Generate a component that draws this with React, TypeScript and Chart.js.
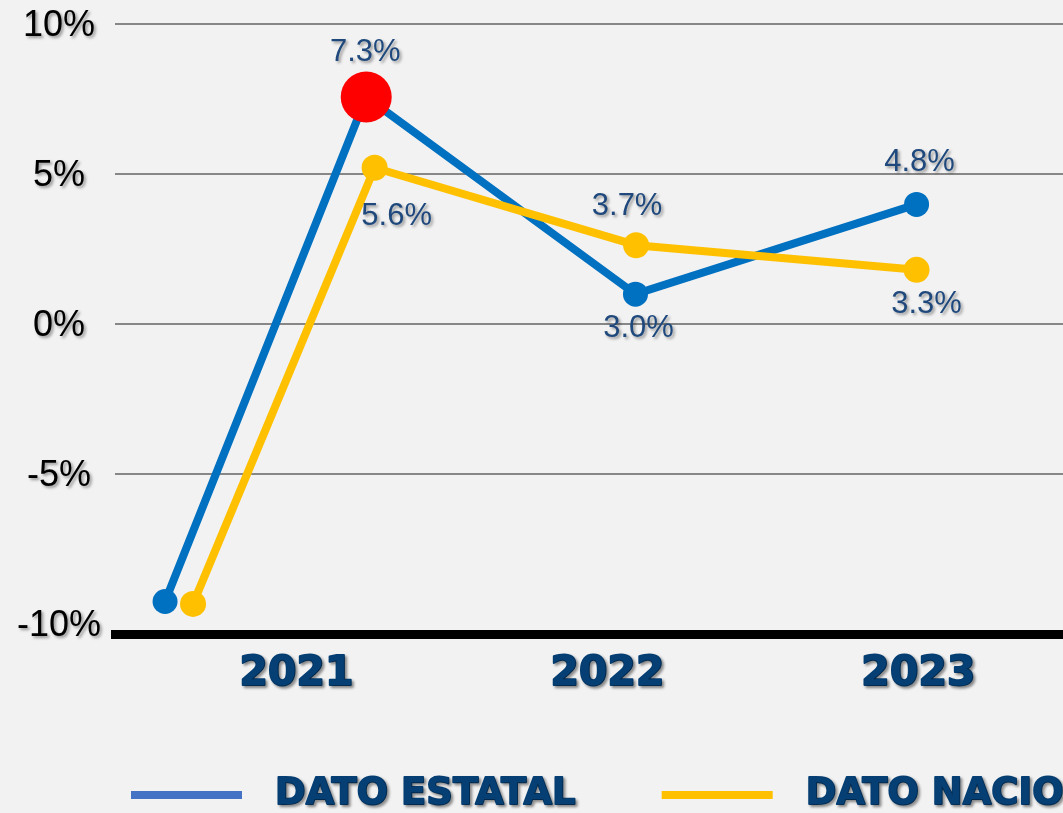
import React, { useEffect, useRef } from 'react';
import { Chart, registerables } from 'chart.js';

Chart.register(...registerables);

// ---- data ----
const seriesNames = ['DATO ESTATAL', 'DATO NACIONAL'];
const yearTicks = [2021, 2022, 2023];
const yTickValues = [-10, -5, 0, 5, 10];
const estatalX = [2020.577, 2021.224, 2022.09, 2022.994];
const estatalY = [-9.24, 7.57, 1.0, 3.99];
const nacionalX = [2020.667, 2021.251, 2022.092, 2022.994];
const nacionalY = [-9.32, 5.21, 2.63, 1.81];
const estatalLabels = ['', '7.3%', '3.0%', '4.8%'];
const nacionalLabels = ['', '5.6%', '3.7%', '3.3%'];
const highlightIndex = 1;

// ---- styles ----
const BLUE = '#0070C0';
const YELLOW = '#FFC000';
const RED = '#FF0000';
const NAVY = '#1F497D';
const DARK_NAVY = '#053F74';
const GRID = '#878787';
const BG = '#F2F2F2';
const LEGEND_BLUE = '#4472C4';

const estatalLabelOffsets = [
  { dx: 0, dy: 0 },
  { dx: -1, dy: -44 },
  { dx: 3, dy: 34 },
  { dx: 3, dy: -42 },
];
const nacionalLabelOffsets = [
  { dx: 0, dy: 0 },
  { dx: 22, dy: 49 },
  { dx: -9, dy: -39 },
  { dx: 10, dy: 35 },
];

function withShadow(ctx: CanvasRenderingContext2D, fn: () => void) {
  ctx.save();
  ctx.shadowColor = 'rgba(0,0,0,0.38)';
  ctx.shadowOffsetX = 2;
  ctx.shadowOffsetY = 2;
  ctx.shadowBlur = 3;
  fn();
  ctx.restore();
}

const bgPlugin = {
  id: 'bgFill',
  beforeDraw(chart: any) {
    const ctx = chart.ctx as CanvasRenderingContext2D;
    ctx.save();
    ctx.fillStyle = BG;
    ctx.fillRect(0, 0, chart.width, chart.height);
    ctx.restore();
  },
};

const textPlugin = {
  id: 'texts',
  afterDraw(chart: any) {
    const ctx = chart.ctx as CanvasRenderingContext2D;
    const xs = chart.scales.x;
    const ys = chart.scales.y;

    // y tick labels
    withShadow(ctx, () => {
      ctx.font = '36px "Liberation Sans", Arial, sans-serif';
      ctx.fillStyle = '#000000';
      ctx.textAlign = 'center';
      ctx.textBaseline = 'middle';
      yTickValues.forEach((v) => {
        ctx.fillText(v + '%', 59, ys.getPixelForValue(v) + 2);
      });
    });

    // x category labels
    withShadow(ctx, () => {
      ctx.font = 'bold 41px "DejaVu Sans", sans-serif';
      ctx.fillStyle = DARK_NAVY;
      ctx.strokeStyle = DARK_NAVY;
      ctx.lineWidth = 2;
      ctx.lineJoin = 'round';
      ctx.textAlign = 'center';
      ctx.textBaseline = 'middle';
      yearTicks.forEach((yr) => {
        const px = xs.getPixelForValue(yr);
        ctx.strokeText(String(yr), px, 674);
        ctx.fillText(String(yr), px, 674);
      });
    });

    // data labels
    const labelSets = [
      { labels: estatalLabels, offsets: estatalLabelOffsets },
      { labels: nacionalLabels, offsets: nacionalLabelOffsets },
    ];
    withShadow(ctx, () => {
      ctx.font = '31px "Liberation Sans", Arial, sans-serif';
      ctx.fillStyle = NAVY;
      ctx.textAlign = 'center';
      ctx.textBaseline = 'middle';
      labelSets.forEach((set, di) => {
        const meta = chart.getDatasetMeta(di);
        meta.data.forEach((pt: any, i: number) => {
          const t = set.labels[i];
          if (!t) return;
          const o = set.offsets[i];
          ctx.fillText(t, pt.x + o.dx, pt.y + o.dy);
        });
      });
    });

    // legend
    const legendColors = [LEGEND_BLUE, YELLOW];
    let lx = 131;
    const ly = 795;
    const legendFont = 'bold 37px "DejaVu Sans", sans-serif';
    ctx.save();
    ctx.font = legendFont;
    seriesNames.forEach((name, i) => {
      ctx.save();
      ctx.strokeStyle = legendColors[i];
      ctx.lineWidth = 8;
      ctx.beginPath();
      ctx.moveTo(lx, ly);
      ctx.lineTo(lx + 111, ly);
      ctx.stroke();
      ctx.restore();
      const tx = lx + 111 + 33;
      withShadow(ctx, () => {
        ctx.font = legendFont;
        ctx.fillStyle = DARK_NAVY;
        ctx.strokeStyle = DARK_NAVY;
        ctx.lineWidth = 1.8;
        ctx.lineJoin = 'round';
        ctx.textAlign = 'left';
        ctx.textBaseline = 'middle';
        ctx.strokeText(name, tx, ly - 1);
        ctx.fillText(name, tx, ly - 1);
      });
      const w = ctx.measureText(name).width;
      lx = tx + w + 86;
    });
    ctx.restore();
  },
};

export default function App() {
  const ref = useRef<HTMLCanvasElement | null>(null);

  useEffect(() => {
    if (!ref.current) return;
    const chart = new Chart(ref.current, {
      type: 'line',
      data: {
        datasets: [
          {
            label: seriesNames[0],
            data: estatalX.map((x, i) => ({ x, y: estatalY[i] })),
            borderColor: BLUE,
            borderWidth: 8,
            tension: 0,
            pointRadius: estatalX.map((_, i) => (i === highlightIndex ? 25.5 : 12.5)),
            pointBackgroundColor: estatalX.map((_, i) => (i === highlightIndex ? RED : BLUE)),
            pointBorderWidth: 0,
            pointHoverRadius: 0,
            order: 1,
          },
          {
            label: seriesNames[1],
            data: nacionalX.map((x, i) => ({ x, y: nacionalY[i] })),
            borderColor: YELLOW,
            borderWidth: 8,
            tension: 0,
            pointRadius: 13,
            pointBackgroundColor: YELLOW,
            pointBorderWidth: 0,
            pointHoverRadius: 0,
            order: 0,
          },
        ],
      },
      options: {
        responsive: false,
        animation: false,
        events: [],
        layout: { autoPadding: false, padding: { left: 115, top: 24, right: 0, bottom: 178.5 } },
        plugins: { legend: { display: false }, tooltip: { enabled: false } },
        scales: {
          x: {
            type: 'linear',
            min: 2020.416,
            max: 2023.465,
            grid: { display: false, drawTicks: false },
            ticks: { display: false },
            border: { display: true, color: '#000000', width: 9 },
          },
          y: {
            type: 'linear',
            min: -10.34,
            max: 10,
            afterBuildTicks: (scale: any) => {
              scale.ticks = yTickValues.map((v) => ({ value: v }));
            },
            grid: {
              drawTicks: false,
              lineWidth: 2,
              color: (c: any) => (c.tick && c.tick.value === -10 ? 'rgba(0,0,0,0)' : GRID),
            },
            ticks: { display: false },
            border: { display: false },
          },
        },
      },
      plugins: [bgPlugin, textPlugin],
    } as any);
    return () => chart.destroy();
  }, []);

  return (
    <div style={{ position: 'fixed', left: 0, top: 0, width: 1063, height: 813, background: BG }}>
      <canvas ref={ref} width={1063} height={813} style={{ display: 'block' }} />
    </div>
  );
}
